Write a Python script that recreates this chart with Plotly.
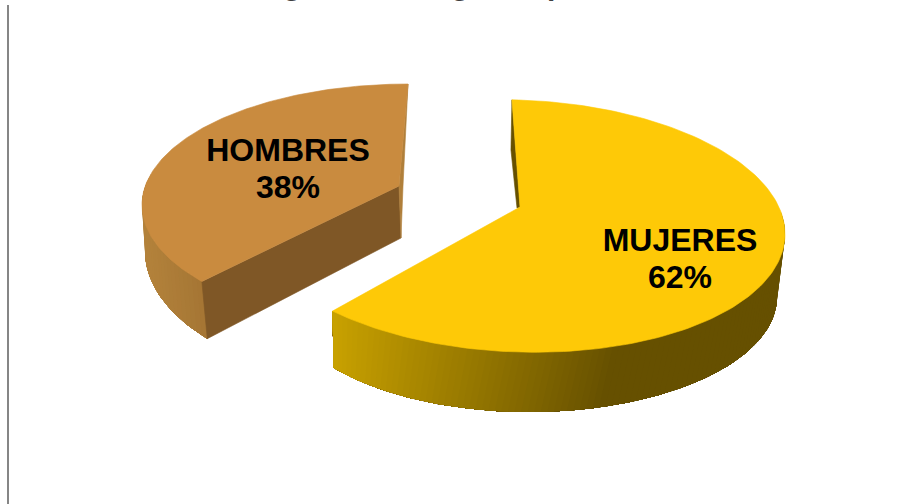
"""Exploded 3D-look pie: MUJERES / HOMBRES, drawn as filled scatter polygons."""
import numpy as np
import plotly.graph_objects as go

# data
categories = ["MUJERES", "HOMBRES"]
shares = [62, 38]
title_bits = ["g", "g", "p", ","]

# view geometry (pixel space): ellipse = cx, cy, a, b, shear
MUJ_TOP = (518, 226, 267, 126, 0.03)
MUJ_BOT = (529, 297, 248, 115, 0)
MUJ_APEX = (520, 207)
HOM_TOP = (408, 205, 266, 121, 0)
HOM_BOT = (405, 251, 260, 135, 0)
HOM_APEX = (399, 186)
HOM_APEX_BOT = (401, 238)

C_MUJ = "#FEC907"
C_HOM = "#C98B3F"
C_HOM_CUT = "#7F5726"
C_HOM_SLIVER = "#B07F3A"
C_MUJ_SLIVER = "#665000"

fig = go.Figure()


def ell(e, deg):
    """Point on ellipse e; 0 deg = top, clockwise like a pie."""
    cx, cy, a, b, k = e
    t = np.radians(deg)
    dx = a * np.sin(t)
    return cx + dx, cy - b * np.cos(t) + k * dx


def poly(xs, ys, color, lw=0.6):
    fig.add_trace(go.Scatter(
        x=list(xs), y=list(ys), mode="lines", fill="toself", fillcolor=color,
        line=dict(color=color, width=lw), hoverinfo="skip", showlegend=False,
    ))


def lerp_color(c0, c1, f):
    f = float(np.clip(f, 0, 1))
    return "rgb(%d,%d,%d)" % tuple(round(p + (q - p) * f) for p, q in zip(c0, c1))


def wall(top, bot, t_from, t_to, b_from, b_to, c0, c1, x0, x1, n=100):
    """Outer rim shaded along x. Each step repaints from i to the end, so no seams."""
    tt = np.linspace(t_from, t_to, n + 1)
    bb = np.linspace(b_from, b_to, n + 1)
    for i in range(n):
        tx, ty = ell(top, tt[i:])
        bx, by = ell(bot, bb[i:])
        f = (tx[0] - x0) / (x1 - x0)
        poly([*tx, *bx[::-1], tx[0]], [*ty, *by[::-1], ty[0]], lerp_color(c0, c1, f), lw=0)


def sector(e, apex, d0, d1, color, n=160):
    xs, ys = ell(e, np.linspace(d0, d1, n))
    poly([apex[0], *xs, apex[0]], [apex[1], *ys, apex[1]], color)


boundary = 360 * shares[0] / sum(shares)

# hombres: rim, cut face, back sliver, top
hom_start = boundary + 7.6
hom_start_bot = boundary + 6.3
wall(HOM_TOP, HOM_BOT, 285, hom_start, 285, hom_start_bot,
     (179, 130, 59), (163, 116, 51), 145, 207, n=30)
cx0, cy0 = ell(HOM_TOP, hom_start)
bx0, by0 = ell(HOM_BOT, hom_start_bot)
poly([cx0, HOM_APEX[0], HOM_APEX_BOT[0], bx0, cx0],
     [cy0, HOM_APEX[1], HOM_APEX_BOT[1], by0, cy0], C_HOM_CUT)
tx, ty = ell(HOM_TOP, 360)
poly([tx, HOM_APEX[0], HOM_APEX_BOT[0], HOM_APEX[0] + 4, tx],
     [ty, HOM_APEX[1], HOM_APEX_BOT[1], HOM_APEX[1], ty], C_HOM_SLIVER)
sector(HOM_TOP, HOM_APEX, hom_start, 360, C_HOM)

# mujeres: rim, back sliver, top
muj_start = -1.3
muj_end = boundary + 0.8
wall(MUJ_TOP, MUJ_BOT, 80, muj_end, 80, muj_end + 8,
     (102, 80, 0), (201, 162, 0), 620, 333)
tx, ty = ell(MUJ_TOP, muj_start)
poly([tx, MUJ_APEX[0], MUJ_APEX[0] - 3, tx - 1, tx],
     [ty, MUJ_APEX[1], MUJ_APEX[1] + 1, ty + 50, ty], C_MUJ_SLIVER)
sector(MUJ_TOP, MUJ_APEX, muj_start, muj_end, C_MUJ)

# value labels, name and percent apart for the tight line spacing
fig.add_trace(go.Scatter(
    x=[680, 680, 288, 288], y=[243, 280, 153, 190], mode="text",
    text=[t for c, s in zip(categories, shares) for t in (c, f"{s}%")],
    textposition="middle center", hoverinfo="skip", showlegend=False,
    textfont=dict(family="Liberation Sans", size=32, color="#000000",
                  weight="bold"),
))

# left axis line
fig.add_shape(type="line", x0=8, x1=8, y0=5, y1=504,
              line=dict(color="#868686", width=2))

# title is cut by the top edge in the source, only descenders show
for bit, x in zip(title_bits, [292, 460, 556, 673]):
    fig.add_annotation(x=x, y=2, text=bit, showarrow=False, yanchor="bottom",
                       yshift=1, borderpad=0, borderwidth=0,
                       font=dict(family="Liberation Sans", size=30, color="#3F3F3F",
                                 weight="bold"))

fig.update_layout(
    width=899, height=504, margin=dict(l=0, r=0, t=0, b=0),
    paper_bgcolor="#FFFFFF", plot_bgcolor="#FFFFFF", showlegend=False,
    xaxis=dict(range=[0, 899], visible=False),
    yaxis=dict(range=[504, 0], visible=False),
)
fig.write_html(
    "out.html",
    config={"displayModeBar": False},
    post_script="document.body.style.margin='0';document.body.style.overflow='hidden';",
)
